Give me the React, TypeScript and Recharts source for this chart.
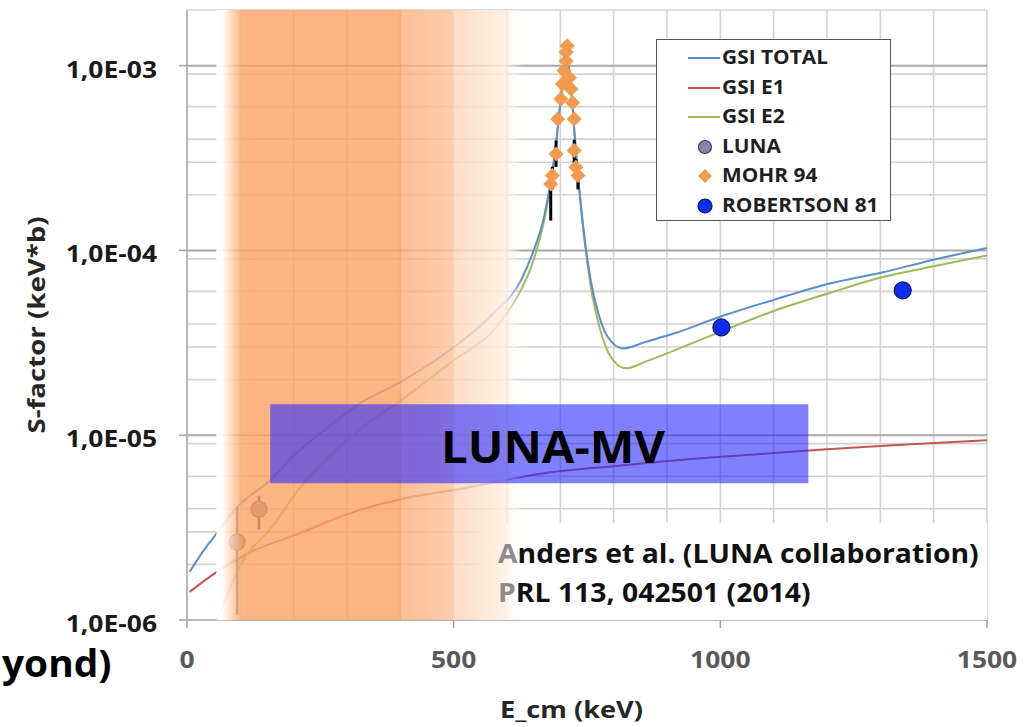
import React from 'react';
import {
  ComposedChart,
  Line,
  Scatter,
  XAxis,
  YAxis,
  CartesianGrid,
  ReferenceArea,
  ReferenceLine,
  ErrorBar,
} from 'recharts';

const FONT = '"Open Sans", "Liberation Sans", sans-serif';

// ---------- data ----------
const totalE = [5, 30, 56, 94, 156, 197, 260, 325, 406, 500, 575, 626, 650, 669, 680, 690, 697, 704, 711, 717, 722, 727, 733, 740, 745, 757, 771, 789, 818, 860, 914, 1002, 1100, 1203, 1303, 1400, 1500];
const totalS = [1.82e-6, 2.35e-6, 2.95e-6, 4.08e-6, 5.7e-6, 7.6e-6, 1.08e-5, 1.49e-5, 1.98e-5, 2.99e-5, 4.57e-5, 6.88e-5, 1.0e-4, 1.5e-4, 2.2e-4, 3.4e-4, 5.2e-4, 8.0e-4, 1.36e-3, 9.0e-4, 6.5e-4, 4.2e-4, 2.6e-4, 1.6e-4, 1.2e-4, 6.9e-5, 4.6e-5, 3.4e-5, 2.95e-5, 3.2e-5, 3.56e-5, 4.4e-5, 5.4e-5, 6.6e-5, 7.6e-5, 8.9e-5, 1.03e-4];

const e1E = [5, 56, 118, 212, 306, 400, 500, 682, 800, 964, 1100, 1200, 1350, 1500];
const e1S = [1.42e-6, 1.82e-6, 2.32e-6, 2.95e-6, 3.79e-6, 4.5e-6, 5.05e-6, 6.3e-6, 6.8e-6, 7.5e-6, 8.0e-6, 8.4e-6, 8.9e-6, 9.4e-6];

const e2E = [10, 30, 56, 105, 156, 212, 263, 330, 395, 500, 575, 626, 645, 669, 680, 690, 697, 704, 711, 717, 722, 727, 733, 740, 745, 757, 771, 795, 823, 860, 914, 1002, 1100, 1203, 1303, 1400, 1500];
const e2S = [4.0e-7, 6.5e-7, 1.0e-6, 2.1e-6, 3.1e-6, 5.2e-6, 7.5e-6, 1.11e-5, 1.5e-5, 2.54e-5, 3.7e-5, 6.1e-5, 8.1e-5, 1.42e-4, 2.1e-4, 3.3e-4, 5.1e-4, 7.9e-4, 1.35e-3, 8.9e-4, 6.4e-4, 4.1e-4, 2.55e-4, 1.55e-4, 1.15e-4, 6.4e-5, 4.1e-5, 2.64e-5, 2.3e-5, 2.5e-5, 2.88e-5, 3.65e-5, 4.7e-5, 5.86e-5, 7.15e-5, 8.2e-5, 9.4e-5];

const lunaE = [94, 135];
const lunaS = [2.64e-6, 3.98e-6];
const lunaErr: [number, number][] = [[1.58e-6, 1.44e-6], [0.88e-6, 0.72e-6]];

const mohrE = [682, 685, 692, 695, 701, 704, 707, 711, 711, 713, 717, 720, 723, 726, 726, 729, 733];
const mohrS = [2.29e-4, 2.54e-4, 3.33e-4, 5.15e-4, 6.6e-4, 7.96e-4, 9.4e-4, 1.06e-3, 1.18e-3, 1.28e-3, 8.6e-4, 7.48e-4, 6.3e-4, 5.15e-4, 3.47e-4, 2.82e-4, 2.54e-4];
const mohrErr: [number, number][] = [[0.84e-4, 0.3e-4], [0.4e-4, 0.3e-4], [0.5e-4, 0.6e-4], [0, 0], [0, 0], [0, 0], [0, 0], [0, 0], [0, 0], [0, 0], [0, 0], [0, 0], [0, 0], [0, 0], [0.5e-4, 0.5e-4], [0.3e-4, 0.3e-4], [0.4e-4, 0.2e-4]];

const robE = [1002, 1342];
const robS = [3.83e-5, 6.08e-5];

const seriesNames = ['GSI TOTAL', 'GSI E1', 'GSI E2', 'LUNA', 'MOHR 94', 'ROBERTSON 81'];
const seriesColors = ['#5B8FC9', '#C5564E', '#9DBB5E', '#8C7DAA', '#F39A4C', '#0B2DF2'];

const xTickValues = [0, 500, 1000, 1500];
const xGridValues = [100, 200, 300, 400, 500, 600, 700, 800, 900, 1000, 1100, 1200, 1300, 1400, 1500];
const yTickValues = [1e-6, 1e-5, 1e-4, 1e-3];
const yTickLabels = ['1,0E-06', '1,0E-05', '1,0E-04', '1,0E-03'];
const yMajorGrid = [1e-5, 1e-4, 1e-3];
const yMinorGrid = [
  2e-6, 3e-6, 4e-6, 5e-6, 6e-6, 7e-6, 8e-6, 9e-6,
  2e-5, 3e-5, 4e-5, 5e-5, 6e-5, 7e-5, 8e-5, 9e-5,
  2e-4, 3e-4, 4e-4, 5e-4, 6e-4, 7e-4, 8e-4, 9e-4,
  2e-3,
];

// decoration regions (data space)
const bandRange = { x1: 55, x2: 630, y1: 1e-6, y2: 2e-3 };
const citeBox = { x1: 547, x2: 1500, y1: 1e-6, y2: 3.35e-6 };
const lunaMvBox = { x1: 156, x2: 1165, y1: 5.5e-6, y2: 1.47e-5 };

const totalData = totalE.map((e, i) => ({ e, s: totalS[i] }));
const e1Data = e1E.map((e, i) => ({ e, s: e1S[i] }));
const e2Data = e2E.map((e, i) => ({ e, s: e2S[i] }));
const lunaData = lunaE.map((e, i) => ({ e, s: lunaS[i], err: lunaErr[i] }));
const mohrData = mohrE.map((e, i) => ({ e, s: mohrS[i], err: mohrErr[i] }));
const robData = robE.map((e, i) => ({ e, s: robS[i] }));

// ---------- shapes / ticks ----------
const YTick = (p: any) => {
  const i = yTickValues.indexOf(p.payload.value);
  return (
    <text
      transform={`translate(${p.x},${p.y + 12}) scale(1.15,1)`}
      textAnchor="end"
      fontFamily={FONT}
      fontWeight={700}
      fontSize={23}
      fill="#1a1a1a"
    >
      {i >= 0 ? yTickLabels[i] : ''}
    </text>
  );
};

const XTick = (p: any) => (
  <text
    transform={`translate(${p.x},${p.y + 38}) scale(1.15,1)`}
    textAnchor="middle"
    fontFamily={FONT}
    fontWeight={700}
    fontSize={23}
    fill="#595959"
  >
    {p.payload.value}
  </text>
);

const lunaShape = (p: any) => (
  <circle cx={p.cx} cy={p.cy} r={8} fill={seriesColors[3]} stroke="#3d3d5c" strokeWidth={1.2} />
);
const robShape = (p: any) => (
  <circle cx={p.cx} cy={p.cy} r={8.5} fill={seriesColors[5]} stroke="#0b1a55" strokeWidth={1.2} />
);
const mohrShape = (p: any) => {
  const r = 7.5;
  const { cx, cy } = p;
  return (
    <polygon
      points={`${cx},${cy - r} ${cx + r},${cy} ${cx},${cy + r} ${cx - r},${cy}`}
      fill={seriesColors[4]}
    />
  );
};

// ---------- overlay text helper ----------
const T = ({ x, cy, fs, sx = 1, color = '#111', center = false, children }: any) => (
  <div
    style={{
      position: 'absolute',
      left: x,
      top: cy - 0.53 * fs,
      fontSize: fs,
      lineHeight: 1,
      fontWeight: 700,
      fontFamily: FONT,
      color,
      whiteSpace: 'nowrap',
      transformOrigin: center ? 'center center' : 'left center',
      transform: center ? `translateX(-50%) scaleX(${sx})` : `scaleX(${sx})`,
    }}
  >
    {children}
  </div>
);

const LegendBox = () => {
  const rows = [18, 48, 77, 107, 136, 166];
  return (
    <div
      style={{
        position: 'absolute',
        left: 656,
        top: 39,
        width: 233,
        height: 180,
        border: '1.5px solid #555',
        background: '#fff',
      }}
    >
      {seriesNames.map((name, i) => (
        <div key={name}>
          <svg
            style={{ position: 'absolute', left: 28, top: rows[i] - 10 }}
            width={40}
            height={20}
          >
            {i < 3 && <line x1={3} x2={35} y1={10} y2={10} stroke={seriesColors[i]} strokeWidth={2} />}
            {i === 3 && <circle cx={20} cy={10} r={6.5} fill={seriesColors[3]} stroke="#3d3d5c" strokeWidth={1.2} />}
            {i === 4 && <polygon points="20,3 27,10 20,17 13,10" fill={seriesColors[4]} />}
            {i === 5 && <circle cx={20} cy={10} r={7} fill={seriesColors[5]} stroke="#0b1a55" strokeWidth={1.2} />}
          </svg>
          <div
            style={{
              position: 'absolute',
              left: 65,
              top: rows[i] - 0.53 * 19,
              fontSize: 19,
              lineHeight: 1,
              fontWeight: 700,
              fontFamily: FONT,
              color: '#1f1f1f',
              whiteSpace: 'nowrap',
              transformOrigin: 'left center',
              transform: 'scaleX(1.1)',
            }}
          >
            {name}
          </div>
        </div>
      ))}
    </div>
  );
};

export default function App() {
  return (
    <div
      style={{
        position: 'absolute',
        left: 0,
        top: 0,
        width: 1028,
        height: 727,
        background: '#fff',
        overflow: 'hidden',
      }}
    >
      <ComposedChart
        width={1028}
        height={727}
        margin={{ top: 10, right: 41, bottom: 47, left: 0 }}
      >
        <defs>
          <linearGradient id="bandGrad" x1="0" y1="0" x2="1" y2="0">
            <stop offset="0" stopColor="#ffffff" stopOpacity={1} />
            <stop offset="0.02" stopColor="#ffffff" stopOpacity={0.92} />
            <stop offset="0.085" stopColor="#fba263" stopOpacity={0.8} />
            <stop offset="0.6" stopColor="#fba263" stopOpacity={0.8} />
            <stop offset="0.602" stopColor="#fbae79" stopOpacity={0.8} />
            <stop offset="0.77" stopColor="#fcc29b" stopOpacity={0.8} />
            <stop offset="0.772" stopColor="#fdd5b8" stopOpacity={0.8} />
            <stop offset="0.94" stopColor="#ffeee2" stopOpacity={0.85} />
            <stop offset="1" stopColor="#ffffff" stopOpacity={0} />
          </linearGradient>
        </defs>
        <CartesianGrid
          horizontalValues={yMinorGrid}
          verticalValues={xGridValues}
          stroke="#d3d3d3"
          strokeWidth={1.6}
        />
        {yMajorGrid.map((v) => (
          <ReferenceLine key={v} y={v} stroke="#a9a9a9" strokeWidth={2} ifOverflow="hidden" />
        ))}
        <XAxis
          dataKey="e"
          type="number"
          domain={[0, 1500]}
          allowDataOverflow
          ticks={xTickValues}
          tick={<XTick />}
          tickSize={8}
          tickMargin={2}
          height={60}
          stroke="#a6a6a6"
          strokeWidth={1.6}
        />
        <YAxis
          dataKey="s"
          type="number"
          scale="log"
          domain={[1e-6, 2e-3]}
          allowDataOverflow
          ticks={yTickValues}
          tick={<YTick />}
          tickSize={8}
          tickMargin={22}
          width={187}
          stroke="#a6a6a6"
          strokeWidth={1.6}
        />
        <Line data={e1Data} dataKey="s" name="GSI E1" type="monotone" stroke={seriesColors[1]} strokeWidth={2} dot={false} isAnimationActive={false} />
        <Line data={e2Data} dataKey="s" name="GSI E2" type="monotone" stroke={seriesColors[2]} strokeWidth={2} dot={false} isAnimationActive={false} />
        <Line data={totalData} dataKey="s" name="GSI TOTAL" type="monotone" stroke={seriesColors[0]} strokeWidth={2} dot={false} isAnimationActive={false} />
        <Scatter data={mohrData} name="MOHR 94" shape={mohrShape} isAnimationActive={false}>
          <ErrorBar dataKey="err" direction="y" width={0} stroke="#000" strokeWidth={3} />
        </Scatter>
        <Scatter data={robData} name="ROBERTSON 81" shape={robShape} isAnimationActive={false} />
        <Scatter data={lunaData} name="LUNA" shape={lunaShape} isAnimationActive={false}>
          <ErrorBar dataKey="err" direction="y" width={0} stroke="#1a1a1a" strokeWidth={2.5} />
        </Scatter>
        <ReferenceArea
          {...citeBox}
          fill="#ffffff"
          fillOpacity={1}
          stroke="none"
          ifOverflow="visible"
          zIndex={640}
        />
        <ReferenceArea
          {...bandRange}
          fill="url(#bandGrad)"
          fillOpacity={1}
          stroke="none"
          ifOverflow="visible"
          zIndex={650}
        />
        <ReferenceArea
          {...lunaMvBox}
          fill="rgb(43,43,255)"
          fillOpacity={0.6}
          stroke="none"
          ifOverflow="visible"
          zIndex={700}
        />
      </ComposedChart>

      <LegendBox />

      <T x={553} cy={447} fs={45} sx={1.05} color="#000" center>
        LUNA-MV
      </T>
      <T x={498} cy={553} fs={27} sx={1.05} color="#111">
        <span style={{ color: '#8c8c8c' }}>A</span>nders et al. (LUNA collaboration)
      </T>
      <T x={498} cy={592} fs={27} sx={1.05} color="#111">
        <span style={{ color: '#8c8c8c' }}>P</span>RL 113, 042501 (2014)
      </T>
      <T x={500} cy={710} fs={23} sx={1.18} color="#262626">
        E_cm (keV)
      </T>
      <T x={2} cy={664} fs={37} sx={1.05} color="#000">
        yond)
      </T>
      <div
        style={{
          position: 'absolute',
          left: 36,
          top: 325,
          fontSize: 24,
          lineHeight: 1,
          fontWeight: 700,
          fontFamily: FONT,
          color: '#262626',
          whiteSpace: 'nowrap',
          transform: 'translate(-50%,-50%) rotate(-90deg) scaleX(1.15)',
        }}
      >
        S-factor (keV*b)
      </div>
    </div>
  );
}
